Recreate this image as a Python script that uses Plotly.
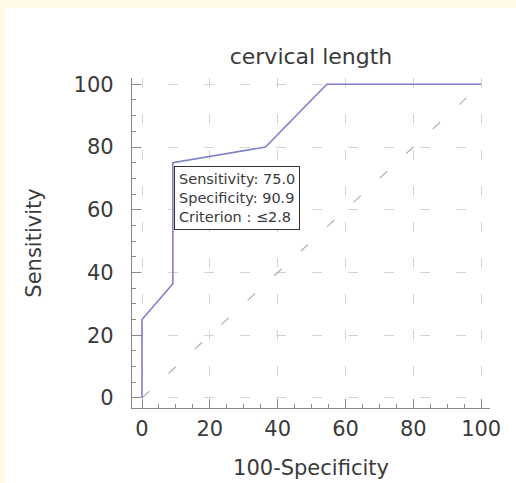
import plotly.graph_objects as go

# ROC curve data (100-Specificity, Sensitivity)
fpr = [0, 0, 9.1, 9.1, 36.4, 54.5, 100]
sens = [0, 25, 36.4, 75, 80, 100, 100]
diag_x = [0, 100]
diag_y = [0, 100]
tick_vals = [0, 20, 40, 60, 80, 100]
title_text = "cervical length"
x_title = "100-Specificity"
y_title = "Sensitivity"
box_lines = ["Sensitivity: 75.0", "Specificity: 90.9", "Criterion : \u22642.8"]

FONT = "DejaVu Sans, Liberation Sans, Arial, sans-serif"
TXT = "#3a3a3a"
W, H = 516, 483
L, R, T, B = 132, 26, 78, 75

fig = go.Figure()
fig.add_trace(go.Scatter(x=diag_x, y=diag_y, mode="lines",
                         line=dict(color="#b0b0b0", width=1.2, dash="10px,26px"),
                         hoverinfo="skip", showlegend=False))
fig.add_trace(go.Scatter(x=fpr, y=sens, mode="lines",
                         line=dict(color="#7f80c6", width=1.6),
                         showlegend=False))

fig.add_annotation(x=9.4, y=73.8, xref="x", yref="y", xanchor="left", yanchor="top",
                   text="<br>".join(box_lines), align="left", showarrow=False,
                   font=dict(family=FONT, size=14.5, color=TXT),
                   bordercolor="#333", borderwidth=1, borderpad=4, bgcolor="white")

axis_common = dict(
    showline=True, linecolor="#888", linewidth=1.2,
    ticks="inside", ticklen=9, tickcolor="#888", tickwidth=1,
    tickvals=tick_vals, showgrid=True, gridcolor="#d4d4d4", gridwidth=1,
    griddash="10px,26px", zeroline=False, automargin=False,
    tickfont=dict(family=FONT, size=21, color=TXT),
    minor=dict(dtick=5, tick0=0, ticks="inside", ticklen=4, tickcolor="#888", showgrid=False),
)

fig.update_xaxes(range=[-2.95, 102.6], ticklabelstandoff=2,
                 title=dict(text=x_title, font=dict(family=FONT, size=21, color=TXT), standoff=20), **axis_common)
fig.update_yaxes(range=[-3.2, 102.0], ticklabelstandoff=13,
                 title=dict(text=y_title, font=dict(family=FONT, size=21, color=TXT), standoff=26), **axis_common)

fig.update_layout(
    width=W, height=H,
    margin=dict(l=L, r=R, t=T, b=B),
    paper_bgcolor="white", plot_bgcolor="white",
    title=dict(text=title_text, x=(L + (W - R)) / 2 / W, xanchor="center",
               y=1 - 56 / H, yanchor="middle",
               font=dict(family=FONT, size=22, color=TXT)),
    shapes=[
        dict(type="rect", xref="paper", yref="paper",
             x0=-L / (W - L - R), x1=1 + R / (W - L - R),
             y0=1 + (T - 8) / (H - T - B), y1=1 + T / (H - T - B),
             fillcolor="#fffae6", line=dict(width=0), layer="below"),
        dict(type="rect", xref="paper", yref="paper",
             x0=-L / (W - L - R), x1=-(L - 5) / (W - L - R),
             y0=-B / (H - T - B), y1=1 + T / (H - T - B),
             fillcolor="#fffae6", line=dict(width=0), layer="below"),
    ],
)

fig.write_html("out.html", config={"displayModeBar": False},
               post_script="document.body.style.margin='0';document.body.style.overflow='hidden';")
